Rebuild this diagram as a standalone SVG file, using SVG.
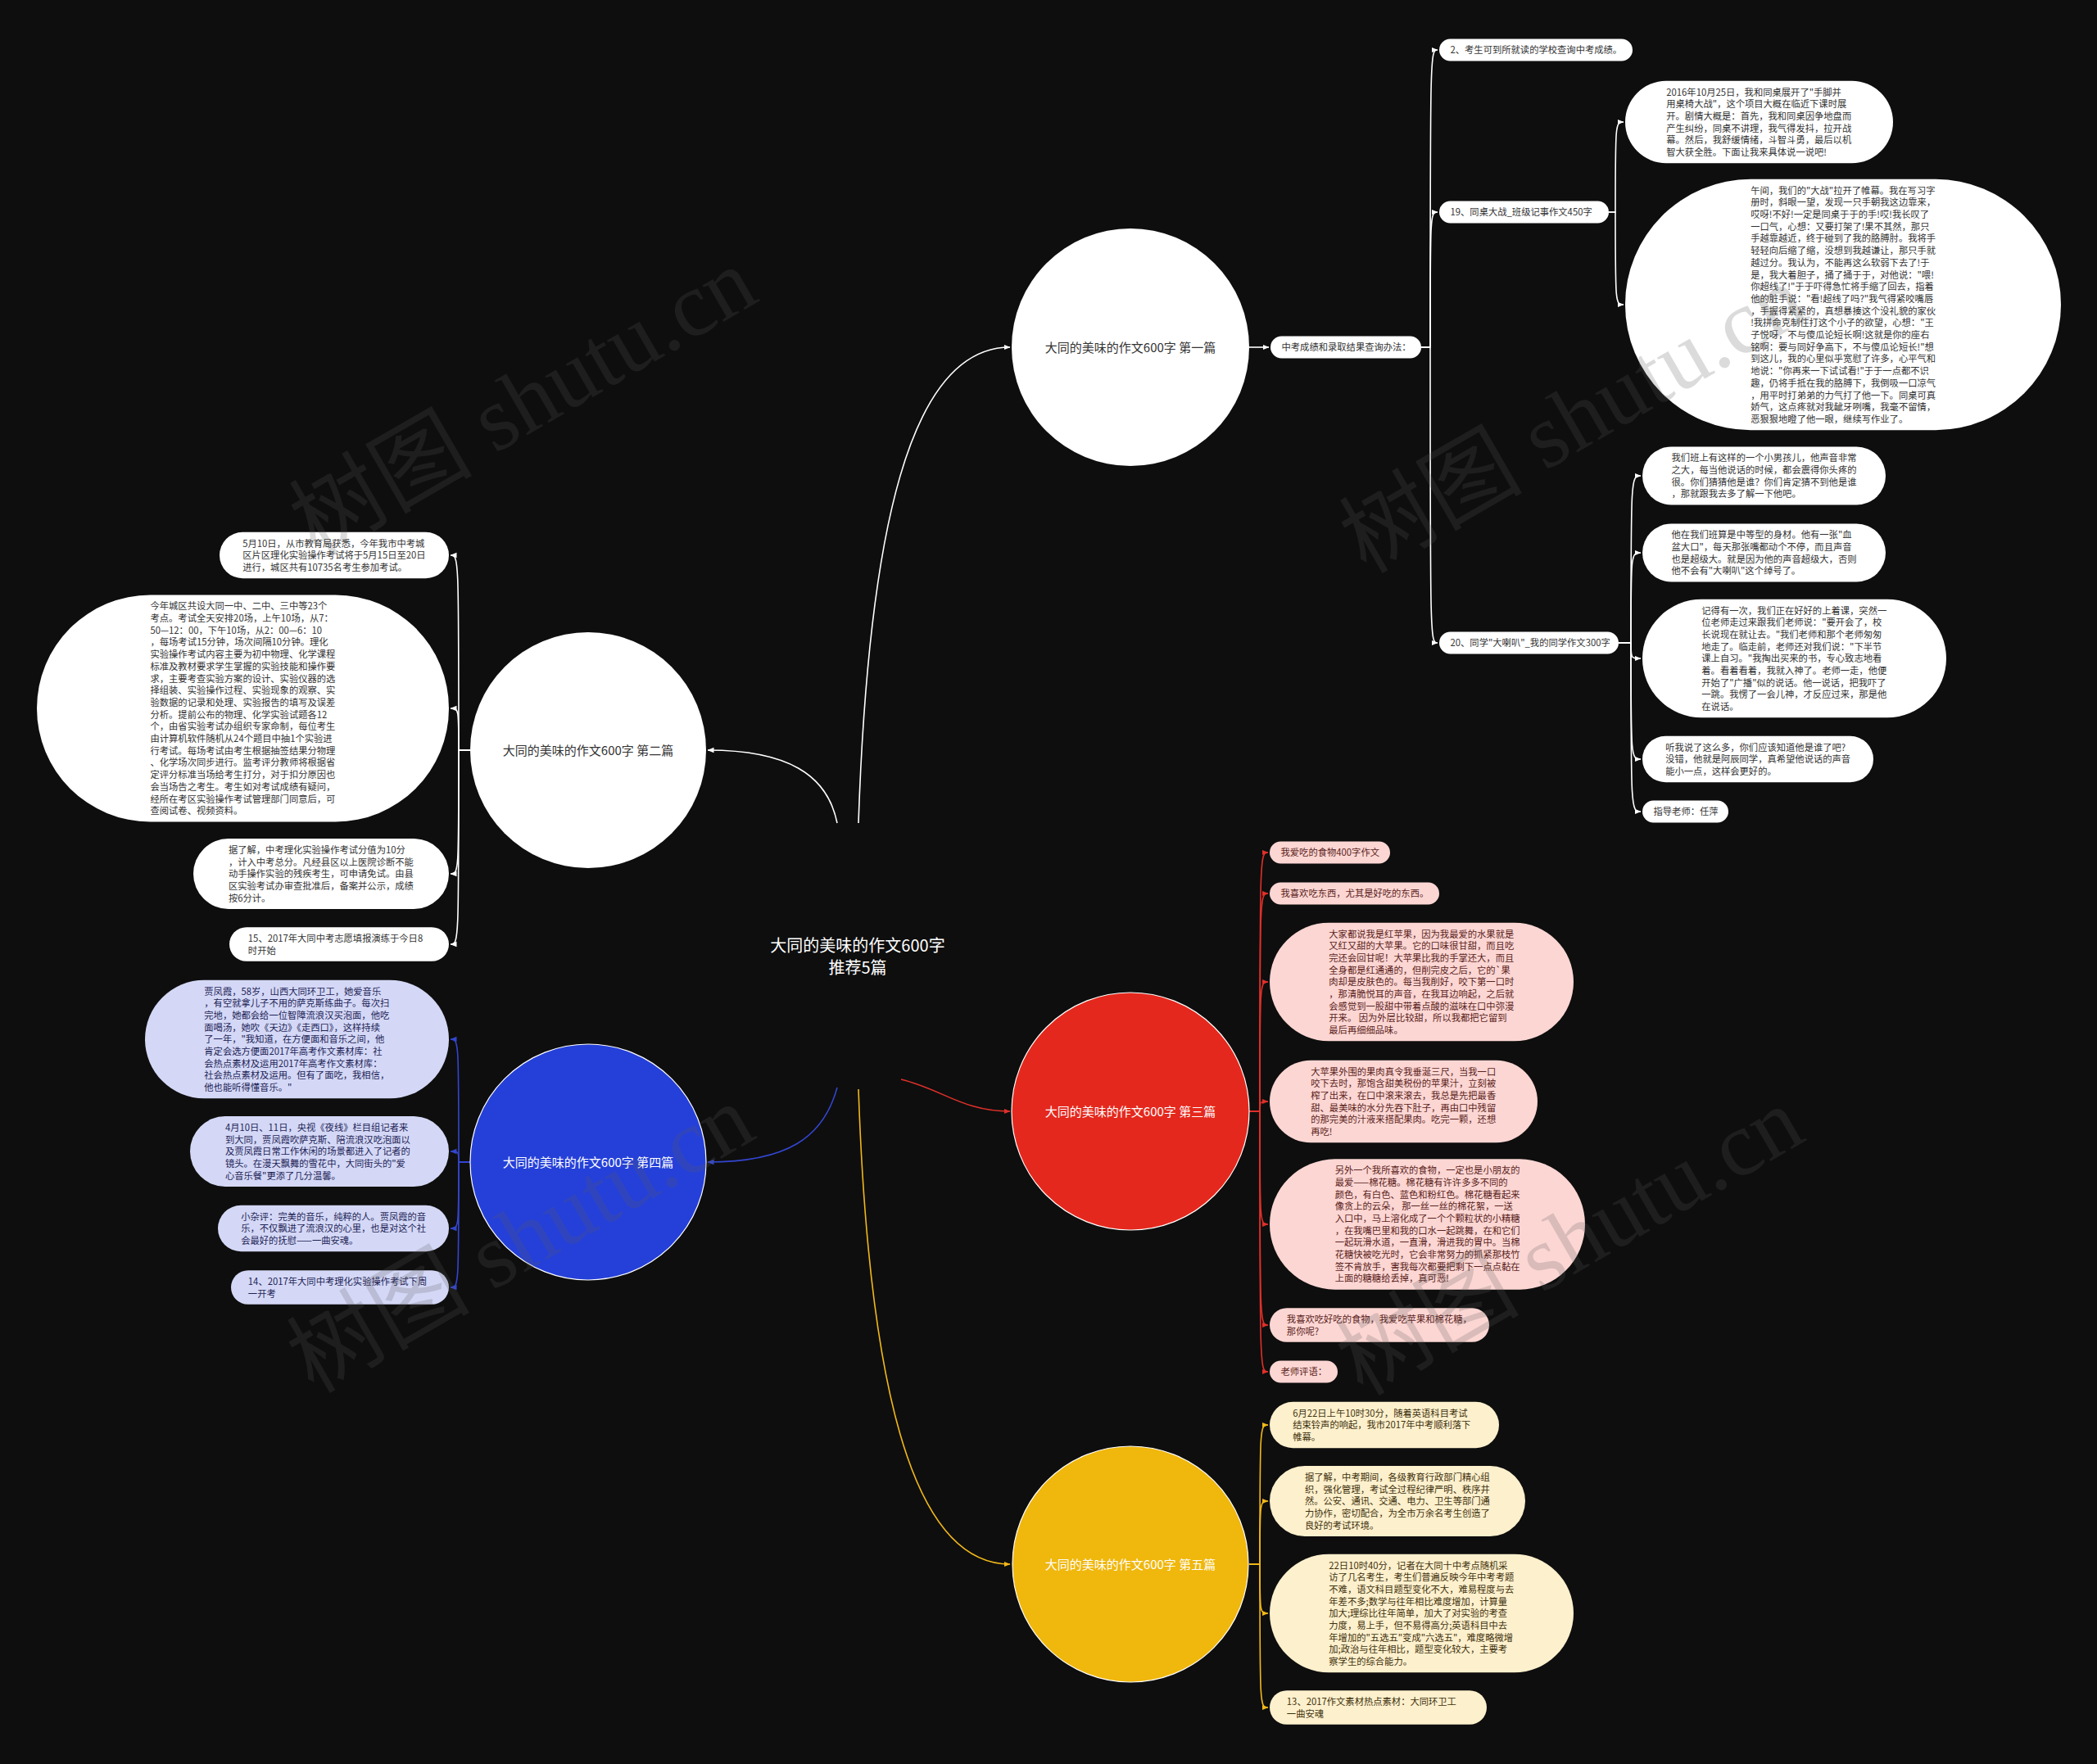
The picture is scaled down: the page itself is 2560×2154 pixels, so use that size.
<svg xmlns="http://www.w3.org/2000/svg" width="2560" height="2154" viewBox="0 0 2560 2154">
<defs>
<style>
.t{font-family:"Noto Sans CJK SC","Liberation Sans",sans-serif;font-size:11.3px}
.tw{fill:#333333}
.tr{fill:#5a2320}
.tb{fill:#1d2457}
.ty{fill:#3d300c}
.ct{font-family:"Noto Sans CJK SC","Liberation Sans",sans-serif;font-size:15px;text-anchor:middle}
.nw{fill:#ffffff}
.nr{fill:#fcd6d3}
.nb{fill:#d4d8f6}
.ny{fill:#fdf0cd}
.lw{fill:none;stroke:#ffffff;stroke-width:1.6}
.lr{fill:none;stroke:#e0302a;stroke-width:1.6}
.lb{fill:none;stroke:#3346cf;stroke-width:1.6}
.ly{fill:none;stroke:#f2b81a;stroke-width:1.6}
.wm{font-family:"Liberation Serif","Noto Sans CJK SC",serif;font-size:112px;fill:#5a5a5a;opacity:0.21;text-anchor:middle}
</style>
<marker id="aw" viewBox="0 0 8 8" refX="7.5" refY="4" markerWidth="8" markerHeight="8" markerUnits="userSpaceOnUse" orient="auto"><path d="M0,0.8 L8,4 L0,7.2 z" fill="#ffffff"/></marker>
<marker id="ar" viewBox="0 0 8 8" refX="7.5" refY="4" markerWidth="8" markerHeight="8" markerUnits="userSpaceOnUse" orient="auto"><path d="M0,0.8 L8,4 L0,7.2 z" fill="#e0302a"/></marker>
<marker id="ab" viewBox="0 0 8 8" refX="7.5" refY="4" markerWidth="8" markerHeight="8" markerUnits="userSpaceOnUse" orient="auto"><path d="M0,0.8 L8,4 L0,7.2 z" fill="#3346cf"/></marker>
<marker id="ay" viewBox="0 0 8 8" refX="7.5" refY="4" markerWidth="8" markerHeight="8" markerUnits="userSpaceOnUse" orient="auto"><path d="M0,0.8 L8,4 L0,7.2 z" fill="#f2b81a"/></marker>
</defs>
<rect x="0" y="0" width="2560" height="2154" fill="#0e0e0e"/>

<g id="connectors">
<path class="lw" d="M1048,1005 C1060,650 1110,424 1233,424" marker-end="url(#aw)"/>
<path class="lw" d="M1022,1005 C1010,945 960,916 864,916" marker-end="url(#aw)"/>
<path class="lr" d="M1100,1318 C1150,1330 1175,1357 1233,1357" marker-end="url(#ar)"/>
<path class="lb" d="M1022,1328 C1005,1390 960,1419 864,1419" marker-end="url(#ab)"/>
<path class="ly" d="M1048,1330 C1060,1680 1110,1910 1233,1910" marker-end="url(#ay)"/>
<path class="lw" d="M1525,424 L1549,424" marker-end="url(#aw)"/>
<path class="lw" d="M1735,424 H1746 C1746,61 1746,61 1755,61" marker-end="url(#aw)"/>
<path class="lw" d="M1735,424 H1746 C1746,259 1746,259 1755,259" marker-end="url(#aw)"/>
<path class="lw" d="M1735,424 H1746 C1746,785 1746,785 1755,785" marker-end="url(#aw)"/>
<path class="lw" d="M1964,259 H1972 C1972,149 1972,149 1982,149" marker-end="url(#aw)"/>
<path class="lw" d="M1964,259 H1972 C1972,372 1972,372 1982,372" marker-end="url(#aw)"/>
<path class="lw" d="M1976,785 H1991 C1991,581 1991,581 2003,581" marker-end="url(#aw)"/>
<path class="lw" d="M1976,785 H1991 C1991,675 1991,675 2003,675" marker-end="url(#aw)"/>
<path class="lw" d="M1976,785 H1991 C1991,804 1991,804 2003,804" marker-end="url(#aw)"/>
<path class="lw" d="M1976,785 H1991 C1991,927 1991,927 2003,927" marker-end="url(#aw)"/>
<path class="lw" d="M1976,785 H1991 C1991,991 1991,991 2003,991" marker-end="url(#aw)"/>
<path class="lw" d="M574,916 H560 C560,678 560,678 550,678" marker-end="url(#aw)"/>
<path class="lw" d="M574,916 H560 C560,865 560,865 550,865" marker-end="url(#aw)"/>
<path class="lw" d="M574,916 H560 C560,1067 560,1067 550,1067" marker-end="url(#aw)"/>
<path class="lw" d="M574,916 H560 C560,1153 560,1153 550,1153" marker-end="url(#aw)"/>
<path class="lr" d="M1525,1357 H1538 C1538,1041 1538,1041 1548,1041" marker-end="url(#ar)"/>
<path class="lr" d="M1525,1357 H1538 C1538,1091 1538,1091 1548,1091" marker-end="url(#ar)"/>
<path class="lr" d="M1525,1357 H1538 C1538,1199 1538,1199 1548,1199" marker-end="url(#ar)"/>
<path class="lr" d="M1525,1357 H1538 C1538,1345 1538,1345 1548,1345" marker-end="url(#ar)"/>
<path class="lr" d="M1525,1357 H1538 C1538,1495 1538,1495 1548,1495" marker-end="url(#ar)"/>
<path class="lr" d="M1525,1357 H1538 C1538,1618 1538,1618 1548,1618" marker-end="url(#ar)"/>
<path class="lr" d="M1525,1357 H1538 C1538,1675 1538,1675 1548,1675" marker-end="url(#ar)"/>
<path class="lb" d="M574,1419 H560 C560,1269 560,1269 550,1269" marker-end="url(#ab)"/>
<path class="lb" d="M574,1419 H560 C560,1406 560,1406 550,1406" marker-end="url(#ab)"/>
<path class="lb" d="M574,1419 H560 C560,1500 560,1500 550,1500" marker-end="url(#ab)"/>
<path class="lb" d="M574,1419 H560 C560,1572 560,1572 550,1572" marker-end="url(#ab)"/>
<path class="ly" d="M1525,1910 H1538 C1538,1740 1538,1740 1548,1740" marker-end="url(#ay)"/>
<path class="ly" d="M1525,1910 H1538 C1538,1833 1538,1833 1548,1833" marker-end="url(#ay)"/>
<path class="ly" d="M1525,1910 H1538 C1538,1970 1538,1970 1548,1970" marker-end="url(#ay)"/>
<path class="ly" d="M1525,1910 H1538 C1538,2085 1538,2085 1548,2085" marker-end="url(#ay)"/>
</g>

<g id="root">
<text x="1047" y="1162" fill="#ffffff" font-family="Noto Sans CJK SC, Liberation Sans, sans-serif" font-size="20" text-anchor="middle"><tspan x="1047">大同的美味的作文600字</tspan><tspan x="1047" dy="27">推荐5篇</tspan></text>
</g>

<g id="main1"><circle cx="1380" cy="424" r="145" fill="#ffffff"/><text class="ct" x="1380" y="429.5" fill="#333333">大同的美味的作文600字 第一篇</text></g>
<g id="main2"><circle cx="718" cy="916" r="144" fill="#ffffff"/><text class="ct" x="718" y="921.5" fill="#333333">大同的美味的作文600字 第二篇</text></g>
<g id="main3"><circle cx="1380" cy="1357" r="145" fill="#e5281d" stroke="#ffffff" stroke-width="1.2"/><text class="ct" x="1380" y="1362.5" fill="#ffffff">大同的美味的作文600字 第三篇</text></g>
<g id="main4"><circle cx="718" cy="1419" r="144" fill="#2540d9" stroke="#ffffff" stroke-width="1.2"/><text class="ct" x="718" y="1424.5" fill="#ffffff">大同的美味的作文600字 第四篇</text></g>
<g id="main5"><circle cx="1380" cy="1910" r="144" fill="#f0b70c" stroke="#ffffff" stroke-width="1.2"/><text class="ct" x="1380" y="1915.5" fill="#ffffff">大同的美味的作文600字 第五篇</text></g>

<g id="b1-query"><rect class="nw" x="1551" y="410.5" width="184" height="27" rx="13.5"/><text class="t tw" x="1564.5" y="428.3">中考成绩和录取结果查询办法：</text></g>
<g id="b1-2"><rect class="nw" x="1757" y="47.5" width="236" height="27" rx="13.5"/><text class="t tw" x="1770.5" y="65.3">2、考生可到所就读的学校查询中考成绩。</text></g>
<g id="b1-19"><rect class="nw" x="1757" y="245.5" width="207" height="27" rx="13.5"/><text class="t tw" x="1770.5" y="263.3">19、同桌大战_班级记事作文450字</text></g>
<g id="b1-20"><rect class="nw" x="1757" y="771.5" width="219" height="27" rx="13.5"/><text class="t tw" x="1770.5" y="789.3">20、同学"大喇叭"_我的同学作文300字</text></g>
<g id="b1-19a"><rect class="nw" x="1984" y="98.75" width="327" height="100.5" rx="50.25"/><text class="t tw" x="2034.25" y="116.55"><tspan x="2034.25">2016年10月25日，我和同桌展开了"手脚并</tspan><tspan x="2034.25" dy="14.7">用桌椅大战"，这个项目大概在临近下课时展</tspan><tspan x="2034.25" dy="14.7">开。剧情大概是：首先，我和同桌因争地盘而</tspan><tspan x="2034.25" dy="14.7">产生纠纷，同桌不讲理，我气得发抖，拉开战</tspan><tspan x="2034.25" dy="14.7">幕。然后，我舒缓情绪，斗智斗勇，最后以机</tspan><tspan x="2034.25" dy="14.7">智大获全胜。下面让我来具体说一说吧!</tspan></text></g>
<g id="b1-19b"><rect class="nw" x="1984" y="218.85" width="532" height="306.3" rx="153.15"/><text class="t tw" x="2137.15" y="236.65"><tspan x="2137.15">午间，我们的"大战"拉开了帷幕。我在写习字</tspan><tspan x="2137.15" dy="14.7">册时，斜眼一望，发现一只手朝我这边靠来，</tspan><tspan x="2137.15" dy="14.7">哎呀!不好!一定是同桌于于的手!哎!我长叹了</tspan><tspan x="2137.15" dy="14.7">一口气，心想：又要打架了!果不其然，那只</tspan><tspan x="2137.15" dy="14.7">手越靠越近，终于碰到了我的胳膊肘。我将手</tspan><tspan x="2137.15" dy="14.7">轻轻向后缩了缩，没想到我越谦让，那只手就</tspan><tspan x="2137.15" dy="14.7">越过分。我认为，不能再这么软弱下去了!于</tspan><tspan x="2137.15" dy="14.7">是，我大着胆子，捅了捅于于，对他说："喂!</tspan><tspan x="2137.15" dy="14.7">你超线了!"于于吓得急忙将手缩了回去，指着</tspan><tspan x="2137.15" dy="14.7">他的脏手说："看!超线了吗?"我气得紧咬嘴唇</tspan><tspan x="2137.15" dy="14.7">，手握得紧紧的，真想暴揍这个没礼貌的家伙</tspan><tspan x="2137.15" dy="14.7">!我拼命克制住打这个小子的欲望，心想："王</tspan><tspan x="2137.15" dy="14.7">子悦呀，不与傻瓜论短长啊!这就是你的座右</tspan><tspan x="2137.15" dy="14.7">铭啊：要与同好争高下，不与傻瓜论短长!"想</tspan><tspan x="2137.15" dy="14.7">到这儿，我的心里似乎宽慰了许多，心平气和</tspan><tspan x="2137.15" dy="14.7">地说："你再来一下试试看!"于于一点都不识</tspan><tspan x="2137.15" dy="14.7">趣，仍将手抵在我的胳膊下，我倒吸一口凉气</tspan><tspan x="2137.15" dy="14.7">，用平时打弟弟的力气打了他一下。同桌可真</tspan><tspan x="2137.15" dy="14.7">娇气，这点疼就对我龇牙咧嘴，我毫不留情，</tspan><tspan x="2137.15" dy="14.7">恶狠狠地瞪了他一眼，继续写作业了。</tspan></text></g>
<g id="b1-20a"><rect class="nw" x="2005" y="545.45" width="297" height="71.1" rx="35.55"/><text class="t tw" x="2040.55" y="563.25"><tspan x="2040.55">我们班上有这样的一个小男孩儿，他声音非常</tspan><tspan x="2040.55" dy="14.7">之大，每当他说话的时候，都会震得你头疼的</tspan><tspan x="2040.55" dy="14.7">很。你们猜猜他是谁？你们肯定猜不到他是谁</tspan><tspan x="2040.55" dy="14.7">，那就跟我去多了解一下他吧。</tspan></text></g>
<g id="b1-20b"><rect class="nw" x="2005" y="639.45" width="297" height="71.1" rx="35.55"/><text class="t tw" x="2040.55" y="657.25"><tspan x="2040.55">他在我们班算是中等型的身材。他有一张"血</tspan><tspan x="2040.55" dy="14.7">盆大口"，每天那张嘴都动个不停，而且声音</tspan><tspan x="2040.55" dy="14.7">也是超级大。就是因为他的声音超级大，否则</tspan><tspan x="2040.55" dy="14.7">他不会有"大喇叭"这个绰号了。</tspan></text></g>
<g id="b1-20c"><rect class="nw" x="2005" y="731.7" width="371" height="144.6" rx="72.3"/><text class="t tw" x="2077.3" y="749.5"><tspan x="2077.3">记得有一次，我们正在好好的上着课，突然一</tspan><tspan x="2077.3" dy="14.7">位老师走过来跟我们老师说："要开会了，校</tspan><tspan x="2077.3" dy="14.7">长说现在就让去。"我们老师和那个老师匆匆</tspan><tspan x="2077.3" dy="14.7">地走了。临走前，老师还对我们说："下半节</tspan><tspan x="2077.3" dy="14.7">课上自习。"我掏出买来的书，专心致志地看</tspan><tspan x="2077.3" dy="14.7">着。看着看着，我就入神了。老师一走，他便</tspan><tspan x="2077.3" dy="14.7">开始了"广播"似的说话。他一说话，把我吓了</tspan><tspan x="2077.3" dy="14.7">一跳。我愣了一会儿神，才反应过来，那是他</tspan><tspan x="2077.3" dy="14.7">在说话。</tspan></text></g>
<g id="b1-20d"><rect class="nw" x="2005" y="898.8" width="282" height="56.4" rx="28.2"/><text class="t tw" x="2033.2" y="916.6"><tspan x="2033.2">听我说了这么多，你们应该知道他是谁了吧?</tspan><tspan x="2033.2" dy="14.7">没错，他就是阿辰同学，真希望他说话的声音</tspan><tspan x="2033.2" dy="14.7">能小一点，这样会更好的。</tspan></text></g>
<g id="b1-20e"><rect class="nw" x="2005" y="977.5" width="105" height="27" rx="13.5"/><text class="t tw" x="2018.5" y="995.3">指导老师：任萍</text></g>

<g id="b2-a"><rect class="nw" x="268" y="649.8" width="280" height="56.4" rx="28.2"/><text class="t tw" x="296.2" y="667.6"><tspan x="296.2">5月10日，从市教育局获悉，今年我市中考城</tspan><tspan x="296.2" dy="14.7">区片区理化实验操作考试将于5月15日至20日</tspan><tspan x="296.2" dy="14.7">进行，城区共有10735名考生参加考试。</tspan></text></g>
<g id="b2-b"><rect class="nw" x="45" y="726.55" width="503" height="276.9" rx="138.45"/><text class="t tw" x="183.45" y="744.35"><tspan x="183.45">今年城区共设大同一中、二中、三中等23个</tspan><tspan x="183.45" dy="14.7">考点。考试全天安排20场，上午10场，从7：</tspan><tspan x="183.45" dy="14.7">50—12：00，下午10场，从2：00—6：10</tspan><tspan x="183.45" dy="14.7">，每场考试15分钟，场次间隔10分钟。理化</tspan><tspan x="183.45" dy="14.7">实验操作考试内容主要为初中物理、化学课程</tspan><tspan x="183.45" dy="14.7">标准及教材要求学生掌握的实验技能和操作要</tspan><tspan x="183.45" dy="14.7">求，主要考查实验方案的设计、实验仪器的选</tspan><tspan x="183.45" dy="14.7">择组装、实验操作过程、实验现象的观察、实</tspan><tspan x="183.45" dy="14.7">验数据的记录和处理、实验报告的填写及误差</tspan><tspan x="183.45" dy="14.7">分析。提前公布的物理、化学实验试题各12</tspan><tspan x="183.45" dy="14.7">个，由省实验考试办组织专家命制，每位考生</tspan><tspan x="183.45" dy="14.7">由计算机软件随机从24个题目中抽1个实验进</tspan><tspan x="183.45" dy="14.7">行考试。每场考试由考生根据抽签结果分物理</tspan><tspan x="183.45" dy="14.7">、化学场次同步进行。监考评分教师将根据省</tspan><tspan x="183.45" dy="14.7">定评分标准当场给考生打分，对于扣分原因也</tspan><tspan x="183.45" dy="14.7">会当场告之考生。考生如对考试成绩有疑问，</tspan><tspan x="183.45" dy="14.7">经所在考区实验操作考试管理部门同意后，可</tspan><tspan x="183.45" dy="14.7">查阅试卷、视频资料。</tspan></text></g>
<g id="b2-c"><rect class="nw" x="236" y="1024.1" width="312" height="85.8" rx="42.9"/><text class="t tw" x="278.9" y="1041.9"><tspan x="278.9">据了解，中考理化实验操作考试分值为10分</tspan><tspan x="278.9" dy="14.7">，计入中考总分。凡经县区以上医院诊断不能</tspan><tspan x="278.9" dy="14.7">动手操作实验的残疾考生，可申请免试。由县</tspan><tspan x="278.9" dy="14.7">区实验考试办审查批准后，备案并公示，成绩</tspan><tspan x="278.9" dy="14.7">按6分计。</tspan></text></g>
<g id="b2-d"><rect class="nw" x="280" y="1132.15" width="268" height="41.7" rx="20.85"/><text class="t tw" x="302.85" y="1149.95"><tspan x="302.85">15、2017年大同中考志愿填报演练于今日8</tspan><tspan x="302.85" dy="14.7">时开始</tspan></text></g>

<g id="b3-a"><rect class="nr" x="1550" y="1027.5" width="147" height="27" rx="13.5"/><text class="t tr" x="1563.5" y="1045.3">我爱吃的食物400字作文</text></g>
<g id="b3-b"><rect class="nr" x="1550" y="1077.5" width="207" height="27" rx="13.5"/><text class="t tr" x="1563.5" y="1095.3">我喜欢吃东西，尤其是好吃的东西。</text></g>
<g id="b3-c"><rect class="nr" x="1550" y="1126.7" width="371" height="144.6" rx="72.3"/><text class="t tr" x="1622.3" y="1144.5"><tspan x="1622.3">大家都说我是红苹果，因为我最爱的水果就是</tspan><tspan x="1622.3" dy="14.7">又红又甜的大苹果。它的口味很甘甜，而且吃</tspan><tspan x="1622.3" dy="14.7">完还会回甘呢！大苹果比我的手掌还大，而且</tspan><tspan x="1622.3" dy="14.7">全身都是红通通的，但削完皮之后，它的`果</tspan><tspan x="1622.3" dy="14.7">肉却是皮肤色的。每当我削好，咬下第一口时</tspan><tspan x="1622.3" dy="14.7">，那清脆悦耳的声音，在我耳边响起，之后就</tspan><tspan x="1622.3" dy="14.7">会感觉到一股甜中带着点酸的滋味在口中弥漫</tspan><tspan x="1622.3" dy="14.7">开来。 因为外层比较甜，所以我都把它留到</tspan><tspan x="1622.3" dy="14.7">最后再细细品味。</tspan></text></g>
<g id="b3-d"><rect class="nr" x="1550" y="1294.75" width="327" height="100.5" rx="50.25"/><text class="t tr" x="1600.25" y="1312.55"><tspan x="1600.25">大苹果外围的果肉真令我垂涎三尺，当我一口</tspan><tspan x="1600.25" dy="14.7">咬下去时，那饱含甜美税份的苹果汁，立刻被</tspan><tspan x="1600.25" dy="14.7">榨了出来，在口中滚来滚去，我总是先把最香</tspan><tspan x="1600.25" dy="14.7">甜、最美味的水分先吞下肚子，再由口中残留</tspan><tspan x="1600.25" dy="14.7">的那完美的汁液来搭配果肉。吃完一颗，还想</tspan><tspan x="1600.25" dy="14.7">再吃!</tspan></text></g>
<g id="b3-e"><rect class="nr" x="1550" y="1415.35" width="385" height="159.3" rx="79.65"/><text class="t tr" x="1629.65" y="1433.15"><tspan x="1629.65">另外一个我所喜欢的食物，一定也是小朋友的</tspan><tspan x="1629.65" dy="14.7">最爱——棉花糖。棉花糖有许许多多不同的</tspan><tspan x="1629.65" dy="14.7">颜色，有白色、蓝色和粉红色。棉花糖看起来</tspan><tspan x="1629.65" dy="14.7">像贪上的云朵， 那一丝一丝的棉花絮，一送</tspan><tspan x="1629.65" dy="14.7">入口中，马上溶化成了一个个颗粒状的小精糖</tspan><tspan x="1629.65" dy="14.7">，在我嘴巴里和我的口水一起跳舞，在和它们</tspan><tspan x="1629.65" dy="14.7">一起玩滑水道，一直滑，滑进我的胃中。当棉</tspan><tspan x="1629.65" dy="14.7">花糖快被吃光时，它会非常努力的抓紧那枝竹</tspan><tspan x="1629.65" dy="14.7">签不肯放手，害我每次都要把剩下一点点黏在</tspan><tspan x="1629.65" dy="14.7">上面的糖糖给丢掉，真可恶!</tspan></text></g>
<g id="b3-f"><rect class="nr" x="1550" y="1597.15" width="268" height="41.7" rx="20.85"/><text class="t tr" x="1570.85" y="1614.95"><tspan x="1570.85">我喜欢吃好吃的食物，我爱吃苹果和棉花糖，</tspan><tspan x="1570.85" dy="14.7">那你呢?</tspan></text></g>
<g id="b3-g"><rect class="nr" x="1550" y="1661.5" width="83" height="27" rx="13.5"/><text class="t tr" x="1563.5" y="1679.3">老师评语：</text></g>

<g id="b4-a"><rect class="nb" x="177" y="1196.7" width="371" height="144.6" rx="72.3"/><text class="t tb" x="249.3" y="1214.5"><tspan x="249.3">贾凤霞，58岁，山西大同环卫工，她爱音乐</tspan><tspan x="249.3" dy="14.7">，有空就拿儿子不用的萨克斯练曲子。每次扫</tspan><tspan x="249.3" dy="14.7">完地，她都会给一位智障流浪汉买泡面，他吃</tspan><tspan x="249.3" dy="14.7">面喝汤，她吹《天边》《走西口》，这样持续</tspan><tspan x="249.3" dy="14.7">了一年，"我知道，在方便面和音乐之间，他</tspan><tspan x="249.3" dy="14.7">肯定会选方便面2017年高考作文素材库：社</tspan><tspan x="249.3" dy="14.7">会热点素材及运用2017年高考作文素材库：</tspan><tspan x="249.3" dy="14.7">社会热点素材及运用。但有了面吃，我相信，</tspan><tspan x="249.3" dy="14.7">他也能听得懂音乐。"</tspan></text></g>
<g id="b4-b"><rect class="nb" x="232" y="1363.1" width="316" height="85.8" rx="42.9"/><text class="t tb" x="274.9" y="1380.9"><tspan x="274.9">4月10日、11日，央视《夜线》栏目组记者来</tspan><tspan x="274.9" dy="14.7">到大同，贾凤霞吹萨克斯、陪流浪汉吃泡面以</tspan><tspan x="274.9" dy="14.7">及贾凤霞日常工作休闲的场景都进入了记者的</tspan><tspan x="274.9" dy="14.7">镜头。在漫天飘舞的雪花中，大同街头的"爱</tspan><tspan x="274.9" dy="14.7">心音乐餐"更添了几分温馨。</tspan></text></g>
<g id="b4-c"><rect class="nb" x="266" y="1471.8" width="282" height="56.4" rx="28.2"/><text class="t tb" x="294.2" y="1489.6"><tspan x="294.2">小杂评：完美的音乐，纯粹的人。贾凤霞的音</tspan><tspan x="294.2" dy="14.7">乐，不仅飘进了流浪汉的心里，也是对这个社</tspan><tspan x="294.2" dy="14.7">会最好的抚慰——一曲安魂。</tspan></text></g>
<g id="b4-d"><rect class="nb" x="282" y="1551.15" width="266" height="41.7" rx="20.85"/><text class="t tb" x="302.85" y="1568.95"><tspan x="302.85">14、2017年大同中考理化实验操作考试下周</tspan><tspan x="302.85" dy="14.7">一开考</tspan></text></g>

<g id="b5-a"><rect class="ny" x="1550" y="1711.8" width="280" height="56.4" rx="28.2"/><text class="t ty" x="1578.2" y="1729.6"><tspan x="1578.2">6月22日上午10时30分，随着英语科目考试</tspan><tspan x="1578.2" dy="14.7">结束铃声的响起，我市2017年中考顺利落下</tspan><tspan x="1578.2" dy="14.7">帷幕。</tspan></text></g>
<g id="b5-b"><rect class="ny" x="1550" y="1790.1" width="312" height="85.8" rx="42.9"/><text class="t ty" x="1592.9" y="1807.9"><tspan x="1592.9">据了解，中考期间，各级教育行政部门精心组</tspan><tspan x="1592.9" dy="14.7">织，强化管理，考试全过程纪律严明、秩序井</tspan><tspan x="1592.9" dy="14.7">然。公安、通讯、交通、电力、卫生等部门通</tspan><tspan x="1592.9" dy="14.7">力协作，密切配合，为全市万余名考生创造了</tspan><tspan x="1592.9" dy="14.7">良好的考试环境。</tspan></text></g>
<g id="b5-c"><rect class="ny" x="1550" y="1897.7" width="371" height="144.6" rx="72.3"/><text class="t ty" x="1622.3" y="1915.5"><tspan x="1622.3">22日10时40分，记者在大同十中考点随机采</tspan><tspan x="1622.3" dy="14.7">访了几名考生，考生们普遍反映今年中考考题</tspan><tspan x="1622.3" dy="14.7">不难，语文科目题型变化不大，难易程度与去</tspan><tspan x="1622.3" dy="14.7">年差不多;数学与往年相比难度增加，计算量</tspan><tspan x="1622.3" dy="14.7">加大;理综比往年简单，加大了对实验的考查</tspan><tspan x="1622.3" dy="14.7">力度，易上手，但不易得高分;英语科目中去</tspan><tspan x="1622.3" dy="14.7">年增加的"五选五"变成"六选五"，难度略微增</tspan><tspan x="1622.3" dy="14.7">加;政治与往年相比，题型变化较大，主要考</tspan><tspan x="1622.3" dy="14.7">察学生的综合能力。</tspan></text></g>
<g id="b5-d"><rect class="ny" x="1550" y="2064.15" width="265" height="41.7" rx="20.85"/><text class="t ty" x="1570.85" y="2081.95"><tspan x="1570.85">13、2017作文素材热点素材：大同环卫工</tspan><tspan x="1570.85" dy="14.7">一曲安魂</tspan></text></g>

<g id="watermarks">
<text class="wm" transform="translate(640,493) rotate(-30)" x="0" y="35">树图 shutu.cn</text>
<text class="wm" transform="translate(1922,514) rotate(-30)" x="0" y="35">树图 shutu.cn</text>
<text class="wm" transform="translate(637,1515) rotate(-30)" x="0" y="35">树图 shutu.cn</text>
<text class="wm" transform="translate(1918,1518) rotate(-30)" x="0" y="35">树图 shutu.cn</text>
</g>
</svg>
